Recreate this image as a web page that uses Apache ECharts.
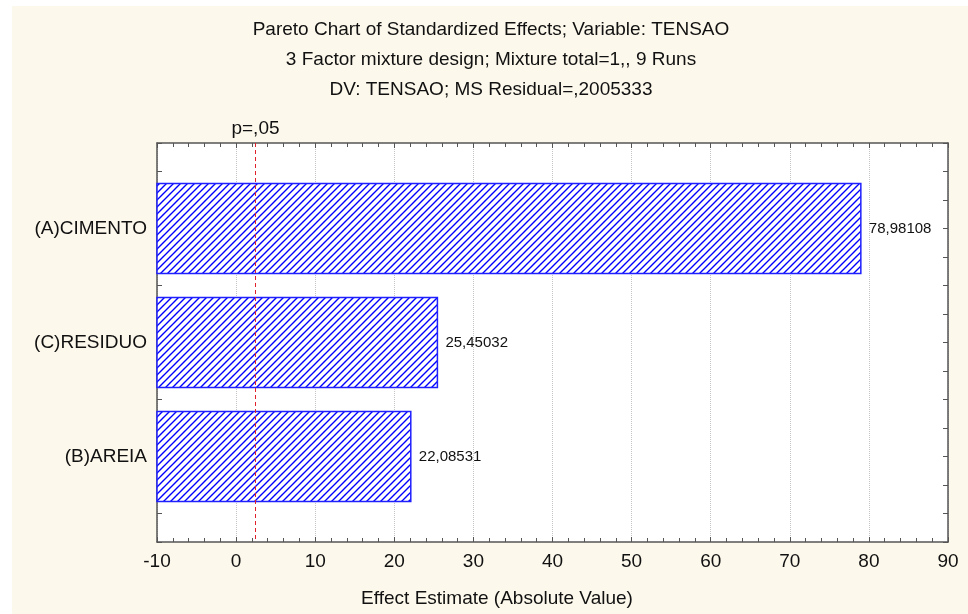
<!DOCTYPE html>
<html>
<head>
<meta charset="utf-8">
<script src="https://cdn.jsdelivr.net/npm/echarts@6/dist/echarts.min.js"></script>
<style>
  html, body { margin: 0; padding: 0; background: #fff; }
  #chart { width: 968px; height: 614px; }
</style>
</head>
<body>
<div id="chart"></div>
<script>
// data
var categories = ['(A)CIMENTO', '(C)RESIDUO', '(B)AREIA'];
var effects = [78.98108, 25.45032, 22.08531];
var slotIndex = [3, 7, 11];   // row of each bar on the 0..14 vertical scale
var slotCount = 15;
var pCrit = 2.446912;         // t(0.975, 6 df)
var xMin = -10, xMax = 90, xStep = 10;

var FONT = '"Liberation Sans", Arial, sans-serif';

// y axis slots: empty except where a bar sits
var ySlots = [];
for (var i = 0; i < slotCount; i++) ySlots.push('');
slotIndex.forEach(function (s, k) { ySlots[s] = categories[k]; });

var barData = effects.map(function (v, k) { return [v, slotIndex[k]]; });

// diagonal hatch pattern "///"
var hatch = document.createElement('canvas');
hatch.width = 7; hatch.height = 7;
var hc = hatch.getContext('2d');
hc.fillStyle = '#ffffff';
hc.fillRect(0, 0, 7, 7);
hc.strokeStyle = '#0000ff';
hc.lineWidth = 1.4;
hc.beginPath();
hc.moveTo(-1, 8); hc.lineTo(8, -1);
hc.moveTo(-1, 1); hc.lineTo(1, -1);
hc.moveTo(6, 8); hc.lineTo(8, 6);
hc.stroke();

function fmt(v) { return v.toFixed(5).replace('.', ','); }

// Statistica draws the bars from the left edge of the axis, not from 0
function renderBar(params, api) {
    var slot = api.value(1);
    var v = api.value(0);
    var p0 = api.coord([xMin, slot]);
    var p1 = api.coord([v, slot]);
    var h = 90;
    return {
        type: 'group',
        children: [{
            type: 'rect',
            shape: { x: p0[0], y: p0[1] - h / 2, width: p1[0] - p0[0], height: h },
            style: { fill: { image: hatch, repeat: 'repeat' }, stroke: '#2020ff', lineWidth: 1.5 }
        }, {
            type: 'text',
            x: p1[0] + 8, y: p1[1],
            style: { text: fmt(v), fill: '#111', fontSize: 15, fontFamily: FONT,
                     verticalAlign: 'middle', align: 'left' }
        }]
    };
}

var frameLine = { show: true, onZero: false, lineStyle: { color: '#555', width: 1.5 } };
var titleStyle = { fontSize: 19, fontWeight: 'normal', color: '#111', fontFamily: FONT };

var chart = echarts.init(document.getElementById('chart'));
var option = {
    backgroundColor: '#ffffff',
    animation: false,
    textStyle: { fontFamily: FONT },
    graphic: [{
        type: 'rect', z: -10, silent: true,
        shape: { x: 12, y: 6, width: 956, height: 608 },
        style: { fill: '#fdf8ec' }
    }],
    title: [
        { text: 'Pareto Chart of Standardized Effects; Variable: TENSAO', left: 486, top: 15, textAlign: 'center', textStyle: titleStyle },
        { text: '3 Factor mixture design; Mixture total=1,, 9 Runs', left: 486, top: 45, textAlign: 'center', textStyle: titleStyle },
        { text: 'DV: TENSAO; MS Residual=,2005333', left: 486, top: 75, textAlign: 'center', textStyle: titleStyle },
        { text: 'Effect Estimate (Absolute Value)', left: 492, top: 584, textAlign: 'center', textStyle: titleStyle }
    ],
    grid: {
        left: 157, right: 20, top: 143, bottom: 72,
        show: true, backgroundColor: '#ffffff', borderWidth: 0
    },
    xAxis: [
        {
            type: 'value', min: xMin, max: xMax, interval: xStep,
            position: 'bottom',
            axisLine: frameLine,
            axisTick: { show: true, inside: true, length: 5, lineStyle: { color: '#555' } },
            minorTick: { show: true, splitNumber: 5, length: 4, lineStyle: { color: '#555' } },
            axisLabel: { color: '#111', fontSize: 19, margin: 10, fontFamily: FONT },
            splitLine: { show: true, lineStyle: { color: '#c4c4c4', type: 'dotted', width: 1 } }
        },
        {
            type: 'value', min: xMin, max: xMax, interval: xStep,
            position: 'top',
            axisLine: frameLine,
            axisTick: { show: true, inside: true, length: 5, lineStyle: { color: '#555' } },
            minorTick: { show: true, splitNumber: 5, length: 4, lineStyle: { color: '#555' } },
            axisLabel: { show: false },
            splitLine: { show: false }
        }
    ],
    yAxis: [
        {
            type: 'category', data: ySlots, inverse: true, boundaryGap: false,
            position: 'left',
            axisLine: frameLine,
            axisTick: { show: true, inside: true, length: 5, interval: 0, lineStyle: { color: '#555' } },
            axisLabel: { interval: 0, color: '#111', fontSize: 19, margin: 10, fontFamily: FONT },
            splitLine: { show: false }
        },
        {
            type: 'category', data: ySlots, inverse: true, boundaryGap: false,
            position: 'right',
            axisLine: frameLine,
            axisTick: { show: true, inside: true, length: 5, interval: 0, lineStyle: { color: '#555' } },
            axisLabel: { show: false },
            splitLine: { show: false }
        }
    ],
    series: [{
        type: 'custom',
        coordinateSystem: 'cartesian2d',
        xAxisIndex: 0,
        yAxisIndex: 0,
        encode: { x: 0, y: 1 },
        data: barData,
        renderItem: renderBar,
        markLine: {
            silent: true, symbol: 'none',
            lineStyle: { color: '#e0202a', type: [4, 3], width: 1 },
            label: { show: true, position: 'start', formatter: 'p=,05', color: '#111', fontSize: 19,
                     fontFamily: FONT, distance: 5 },
            data: [{ xAxis: pCrit }]
        }
    }]
};
chart.setOption(option);
</script>
</body>
</html>
